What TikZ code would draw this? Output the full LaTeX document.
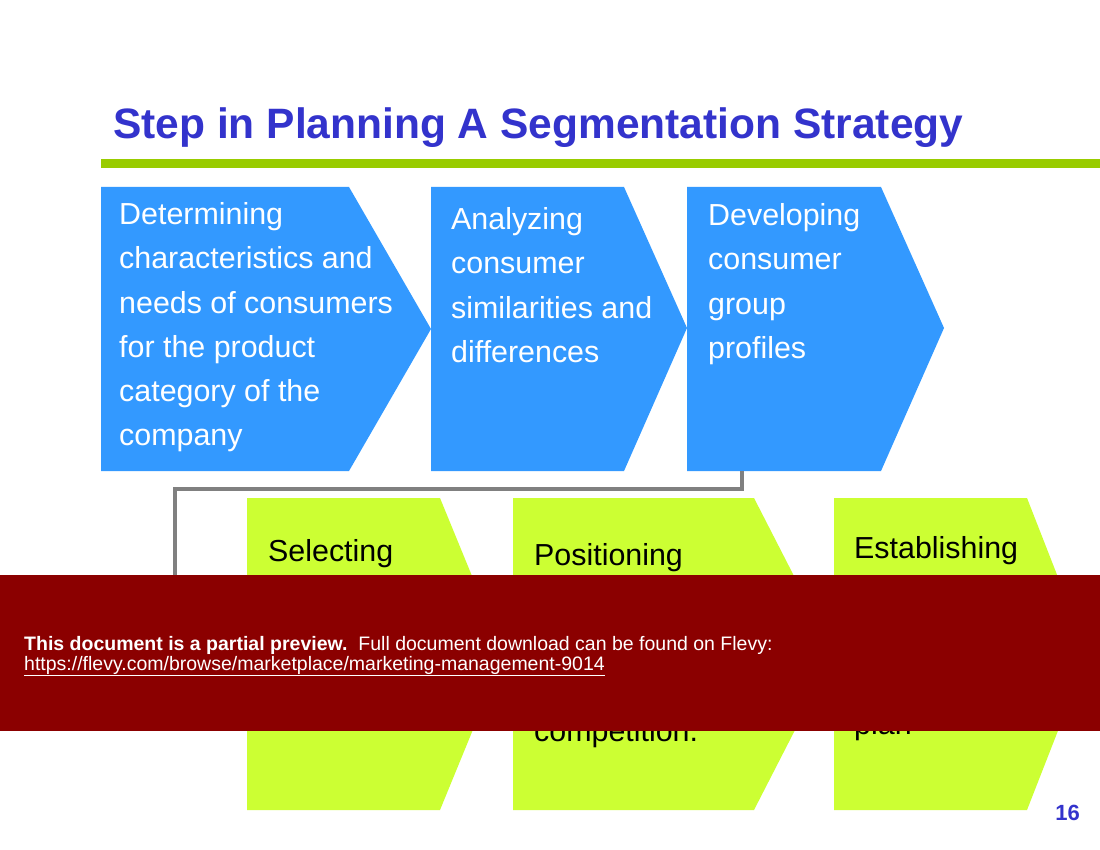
\documentclass[tikz,border=0pt]{standalone}
\usepackage{fontspec}
\setmainfont{Liberation Sans}
\definecolor{stepblue}{HTML}{3399FF}
\definecolor{steplime}{HTML}{CCFF33}
\definecolor{titleblue}{HTML}{3333CC}
\definecolor{rulegreen}{HTML}{99CC00}
\definecolor{bannerred}{HTML}{8B0000}
\definecolor{linkgray}{HTML}{808080}
\tikzset{
  bluebox/.style={fill=stepblue},
  limebox/.style={fill=steplime},
  bluetxt/.style={anchor=base west, inner sep=0pt, text=white, font=\fontsize{30.4}{36}\selectfont},
  limetxt/.style={anchor=base west, inner sep=0pt, text=black, font=\fontsize{30.4}{36}\selectfont},
  bantxt/.style={anchor=base west, inner sep=0pt, text=white, font=\fontsize{19.5}{22}\selectfont},
  link/.style={draw=linkgray, line width=4pt}
}
\begin{document}
\begin{tikzpicture}[x=1pt,y=-1pt]
\useasboundingbox (0,0) rectangle (1100,850);
\fill[white] (0,0) rectangle (1100,850);
% title
\node[anchor=base west, inner sep=0pt, text=titleblue, font=\fontsize{42.5}{48}\selectfont\bfseries] (title) at (113,139) {Step in Planning A Segmentation Strategy};
\fill[rulegreen] (101,159) rectangle (1100,168);
% blue steps
\fill[bluebox] (101,187) -- (349,187) -- (431,329) -- (349,471) -- (101,471) -- cycle;
\fill[bluebox] (431,187) -- (624,187) -- (687,328) -- (624,471) -- (431,471) -- cycle;
\fill[bluebox] (687,187) -- (881,187) -- (944,328) -- (881,471) -- (687,471) -- cycle;
\node[bluetxt] (a1) at (119,225) {Determining};
\node[bluetxt] (a2) at (119,269) {characteristics and};
\node[bluetxt] (a3) at (119,313) {needs of consumers};
\node[bluetxt] (a4) at (119,357) {for the product};
\node[bluetxt] (a5) at (119,401) {category of the};
\node[bluetxt] (a6) at (119,445) {company};
\node[bluetxt] (b1) at (451,230) {Analyzing};
\node[bluetxt] (b2) at (451,274) {consumer};
\node[bluetxt] (b3) at (451,318) {similarities and};
\node[bluetxt] (b4) at (451,362) {differences};
\node[bluetxt] (c1) at (708,226) {Developing};
\node[bluetxt] (c2) at (708,270) {consumer};
\node[bluetxt] (c3) at (708,314) {group};
\node[bluetxt] (c4) at (708,358) {profiles};
% connector
\coordinate (b3s) at (742,471);
\coordinate (g1w) at (247,654);
\draw[link] (b3s) |- (175,489) |- (g1w);
% lime steps
\fill[limebox] (247,498) -- (440,498) -- (504,654) -- (440,810) -- (247,810) -- cycle;
\fill[limebox] (513,498) -- (754,498) -- (834,654) -- (754,810) -- (513,810) -- cycle;
\fill[limebox] (834,498) -- (1027,498) -- (1088,654) -- (1027,810) -- (834,810) -- cycle;
\node[limetxt] (d1) at (268,561) {Selecting};
\node[limetxt] (e1) at (534,565) {Positioning};
\node[limetxt] (e5) at (534,741) {competition.};
\node[limetxt] (f1) at (854,558) {Establishing};
\node[limetxt] (f5) at (854,734) {plan};
% banner
\fill[bannerred] (0,575) rectangle (1100,731);
\node[bantxt] (ban1) at (24,650) {\textbf{This document is a partial preview.}\hspace{11pt}Full document download can be found on Flevy:};
\node[bantxt] (ban2) at (24,670) {\underline{https://flevy.com/browse/marketplace/marketing-management-9014}};
% page number
\node[anchor=base east, inner sep=0pt, text=titleblue, font=\fontsize{22}{24}\selectfont\bfseries] (pg) at (1080,820) {16};
\end{tikzpicture}
\end{document}
